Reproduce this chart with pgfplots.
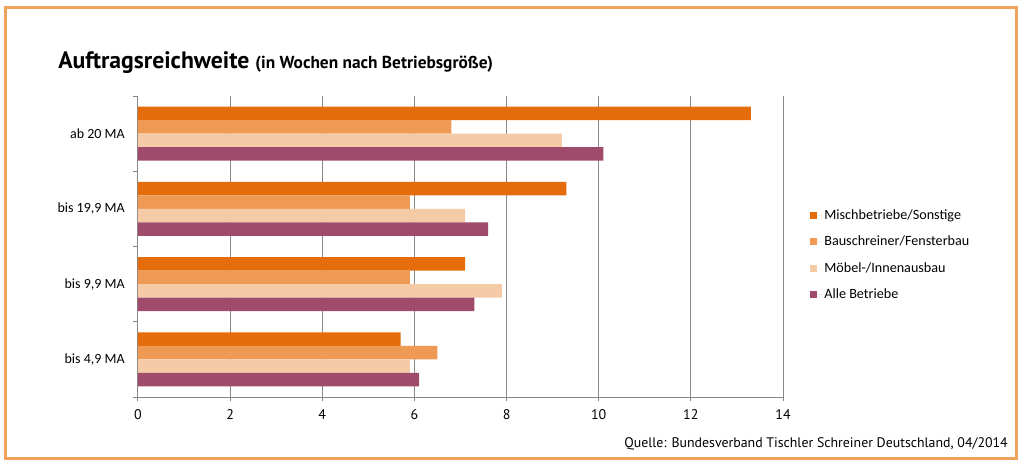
\documentclass[border=0pt]{standalone}
\usepackage{pgfplots}
\pgfplotsset{compat=1.18}
\usepackage{fontspec}
\setmainfont{Carlito}
\newfontfamily\din{PT Sans}

\definecolor{misch}{HTML}{E46C0A}
\definecolor{bausch}{HTML}{EE9A55}
\definecolor{moebel}{HTML}{F5CBA7}
\definecolor{alle}{HTML}{A04B6B}
\definecolor{rahmen}{HTML}{F0A35E}
\definecolor{gitter}{HTML}{878787}

% Wochen; y: 0 = bis 4,9 MA ... 3 = ab 20 MA
\pgfplotstableread{
y   misch bausch moebel alle
0   5.7   6.5    5.9    6.1
1   7.1   5.9    7.9    7.3
2   9.3   5.9    7.1    7.6
3   13.3  6.8    9.2    10.1
}\werte

\begin{document}
\begin{tikzpicture}
\path (0,0) rectangle (768pt,348.75pt);
\draw[rahmen, line width=2.25pt] (3.75pt,5.25pt) rectangle (762pt,342.75pt);
\node[anchor=base west, inner sep=0pt] at (43.5pt,297pt)
  {\din\bfseries\fontsize{17.8}{20}\selectfont Auftragsreichweite\
   \fontsize{13}{15}\selectfont (in Wochen nach Betriebsgröße)};
\node[anchor=base east, inner sep=0pt] at (756pt,13.5pt)
  {\din\fontsize{10.4}{12}\selectfont Quelle: Bundesverband Tischler Schreiner Deutschland, 04/2014};

\begin{axis}[
  at={(103.5pt,51pt)}, anchor=south west,
  scale only axis, width=483.75pt, height=225.75pt,
  xbar, bar width=0.18,
  xmin=0, xmax=14, ymin=-0.5, ymax=3.5,
  xtick={0,2,...,14},
  ytick={0,1,2,3},
  yticklabels={bis 4{,}9 MA, bis 9{,}9 MA, bis 19{,}9 MA, ab 20 MA},
  minor ytick={-0.5,0.5,1.5,2.5,3.5},
  axis x line*=bottom, axis y line*=left,
  axis line style={gitter, line width=0.75pt},
  xmajorgrids, grid style={gitter, line width=0.75pt},
  tick align=outside,
  ytick style={draw=none},
  minor y tick style={draw=gitter, line width=0.75pt},
  minor tick length=4pt,
  xtick style={gitter, line width=0.75pt},
  major tick length=3pt,
  /pgf/number format/assume math mode=true,
  xticklabel style={font=\din\fontsize{10.5}{12}\selectfont, inner sep=0pt, yshift=-6pt},
  yticklabel style={font=\fontsize{10.5}{12}\selectfont, inner sep=0pt, xshift=-6.75pt},
  legend style={at={(1.042,0.472)}, anchor=west, draw=none, fill=none,
    font=\fontsize{10.6}{12}\selectfont, row sep=7pt, inner sep=0pt,
    /tikz/every even column/.append style={column sep=0pt}},
  legend cell align=left,
  legend image code/.code={\fill[#1] (0pt,-2.6pt) rectangle (5.25pt,2.6pt);
    \path (0pt,0pt) -- (8.5pt,0pt);},
]
\addplot[fill=misch, draw=none, bar shift=0.27] table[x=misch, y=y] {\werte};
\addlegendentry{Mischbetriebe/Sonstige}
\addplot[fill=bausch, draw=none, bar shift=0.09] table[x=bausch, y=y] {\werte};
\addlegendentry{Bauschreiner/Fensterbau}
\addplot[fill=moebel, draw=none, bar shift=-0.09] table[x=moebel, y=y] {\werte};
\addlegendentry{Möbel-/Innenausbau}
\addplot[fill=alle, draw=none, bar shift=-0.27] table[x=alle, y=y] {\werte};
\addlegendentry{Alle Betriebe}
\end{axis}
\end{tikzpicture}
\end{document}
